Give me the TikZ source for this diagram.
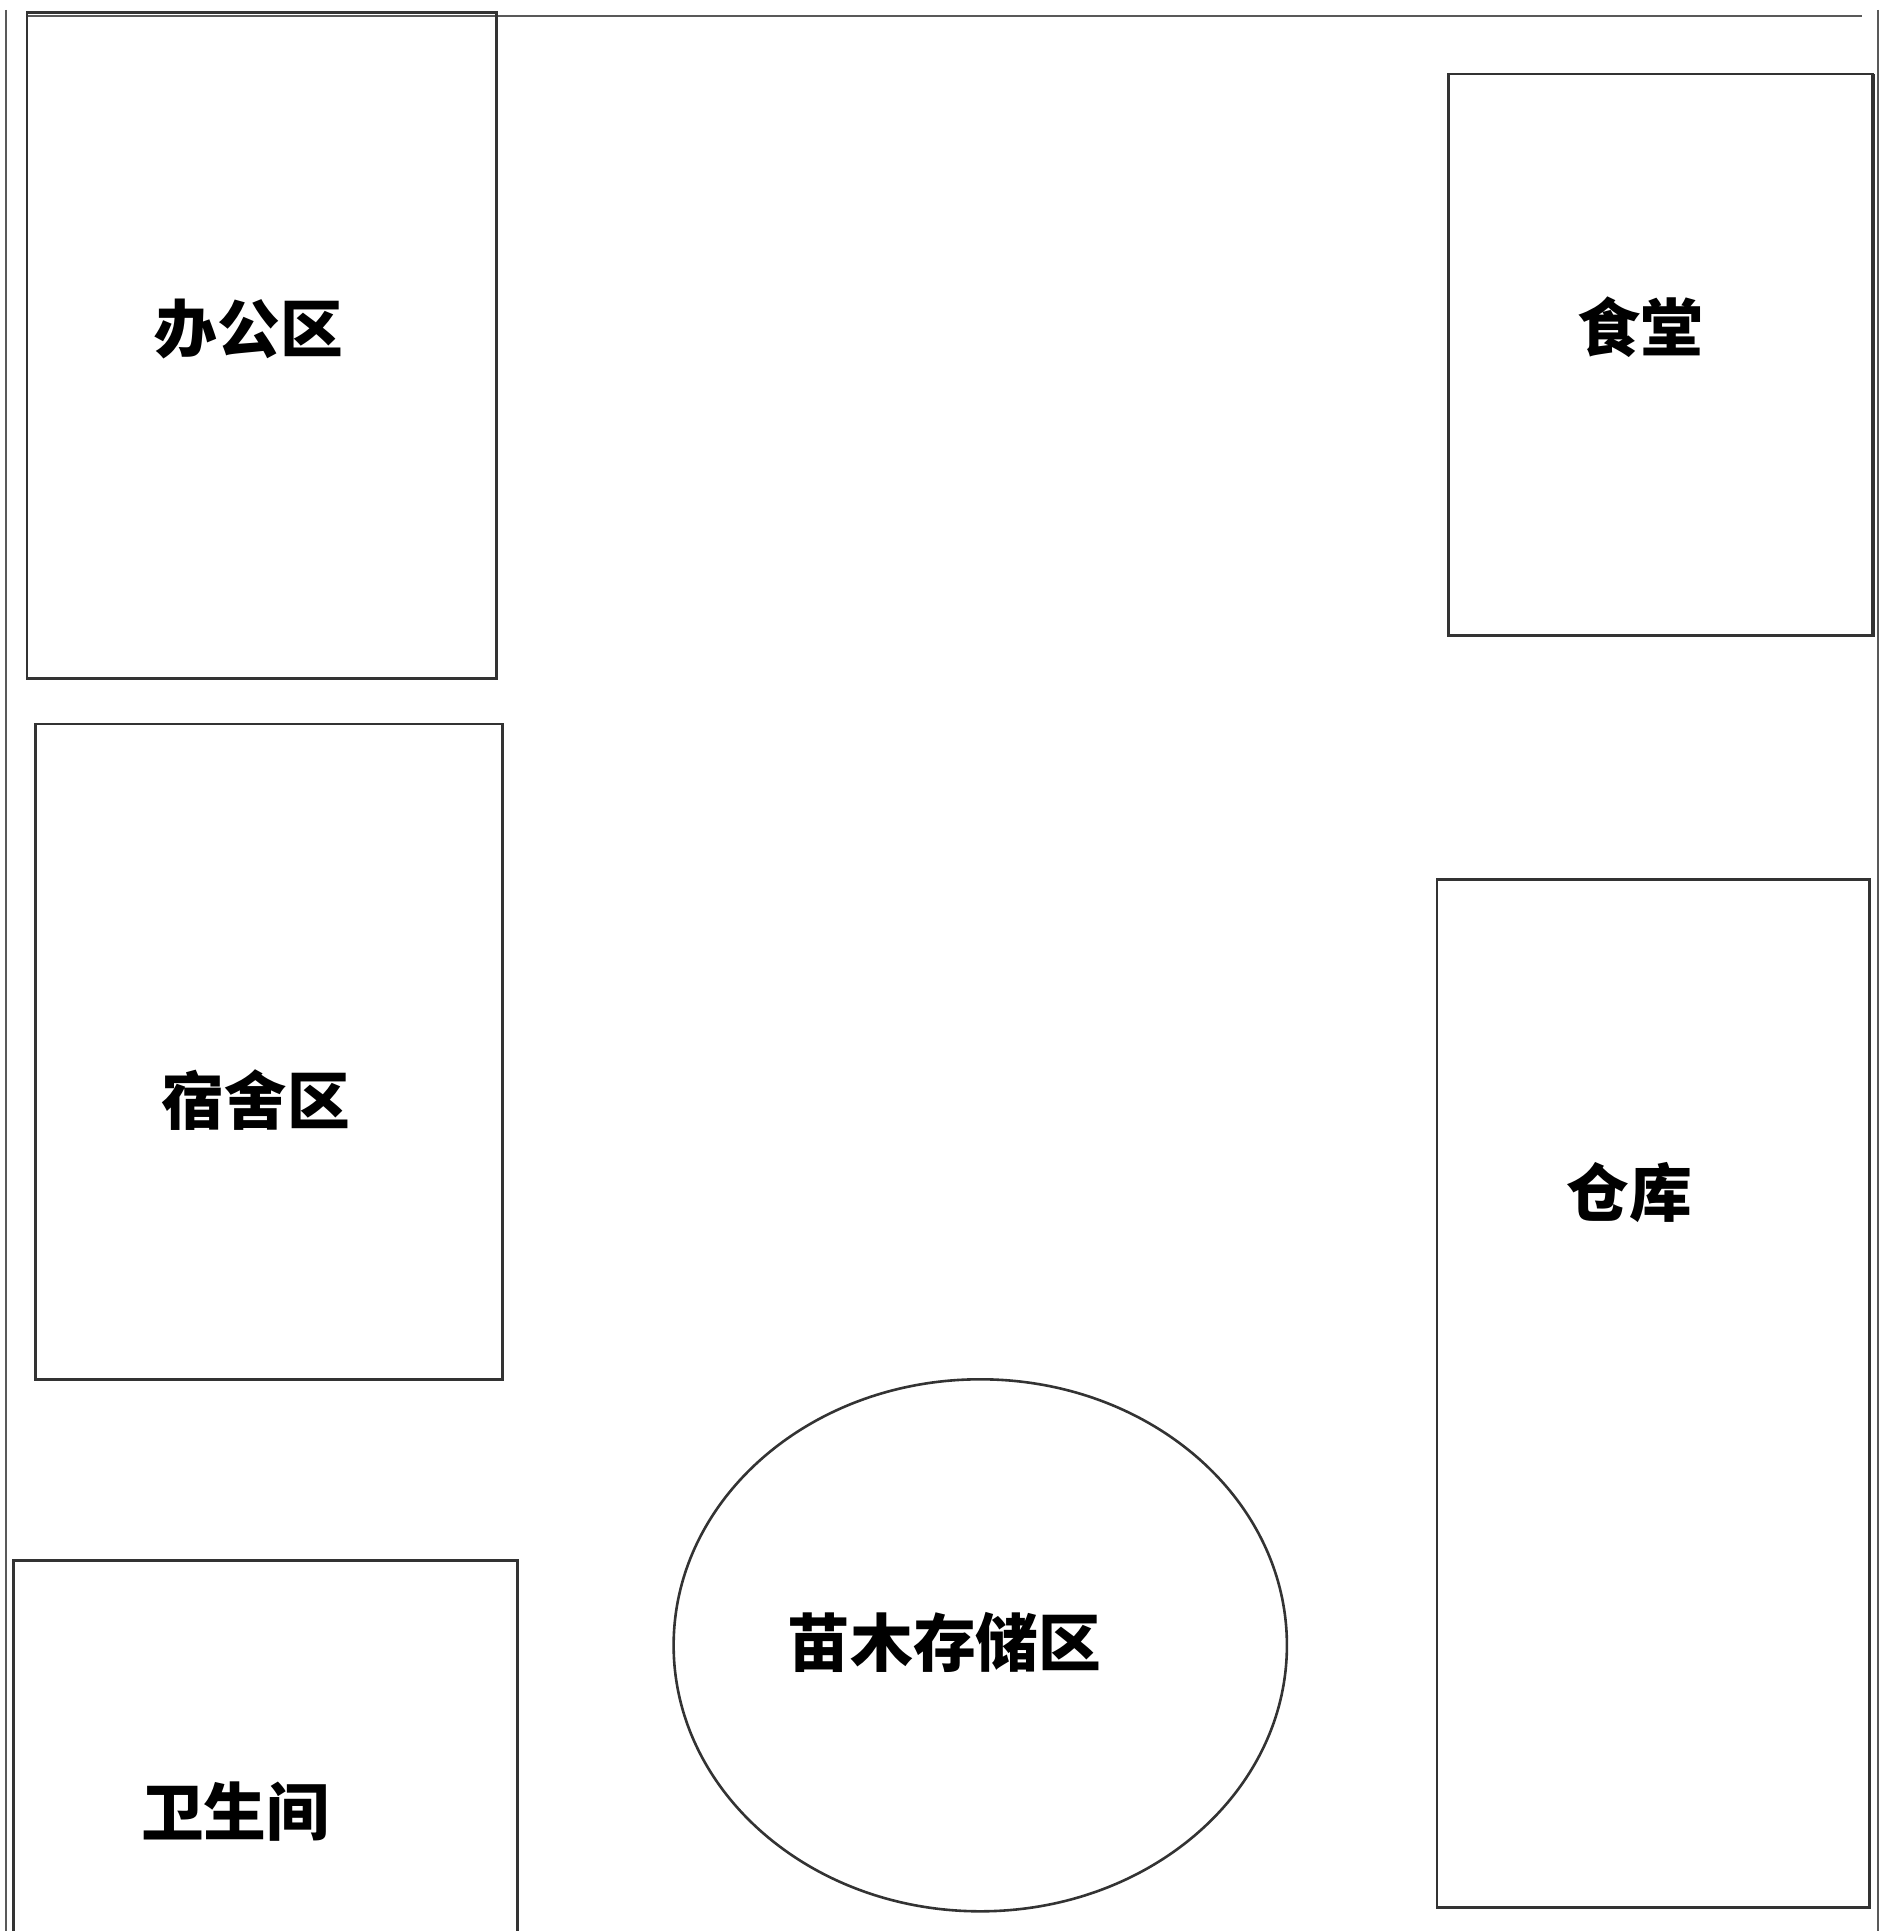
\documentclass[tikz,border=0pt]{standalone}
\usepackage{fontspec}
\newfontfamily\cjk{Noto Sans CJK SC}
\usetikzlibrary{shapes.geometric}
\begin{document}
\begin{tikzpicture}[x=0.01cm,y=-0.01cm,
  wall/.style={draw=black!65,line width=0.55pt},
  room/.style={draw=black!80,line width=0.6pt},
  lbl/.style={font=\cjk\bfseries\fontsize{14.5pt}{16pt}\selectfont,inner sep=0pt}]
\useasboundingbox (0,0) rectangle (1536,1568);
% site boundary
\draw[wall] (5,8) -- (5,1568);
\draw[wall] (22,13) -- (1512,13);
\draw[wall] (1525,8) -- (1525,1568);
% rooms
\draw[room] (22,10) rectangle (403,551);
\draw[room] (1176,60) rectangle (1521,516);
\draw[room,line width=0.9pt] (1176,516) -- (1521,516) -- (1521,60);
\draw[room] (29,588) rectangle (408,1120);
\draw[room] (1167,714) rectangle (1518,1549);
\draw[room] (11,1575) -- (11,1267) -- (420,1267) -- (420,1575);
\draw[room] (796,1336) ellipse [x radius=249, y radius=216];
% labels
\node[lbl] (office) at (202,267) {办公区};
\node[lbl] (canteen) at (1332,266) {食堂};
\node[lbl] (dorm) at (208,893) {宿舍区};
\node[lbl] (store) at (1323,968) {仓库};
\node[lbl] (wc) at (191,1471) {卫生间};
\node[lbl] (nursery) at (767,1334) {苗木存储区};
\end{tikzpicture}
\end{document}
